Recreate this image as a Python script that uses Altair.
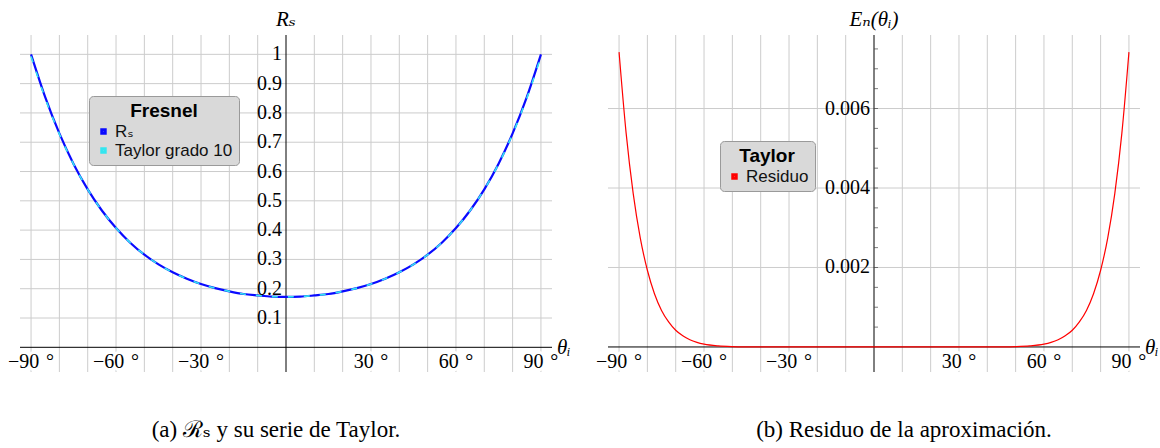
import altair as alt
import pandas as pd

# ---------------- data ----------------
theta_a = [-90, -85, -80, -75, -70, -65, -60, -55, -50, -45, -40, -35, -30, -25, -20, -15, -10, -5,
           0, 5, 10, 15, 20, 25, 30, 35, 40, 45, 50, 55, 60, 65, 70, 75, 80, 85, 90]
rs_vals = [1.000, 0.854, 0.730, 0.626, 0.539, 0.467, 0.407, 0.357, 0.316, 0.283, 0.256, 0.234, 0.216,
           0.202, 0.191, 0.182, 0.177, 0.173, 0.172, 0.173, 0.177, 0.182, 0.191, 0.202, 0.216, 0.234,
           0.256, 0.283, 0.316, 0.357, 0.407, 0.467, 0.539, 0.626, 0.730, 0.854, 1.000]
taylor_vals = [0.993, 0.850, 0.728, 0.625, 0.539, 0.467, 0.407, 0.357, 0.316, 0.283, 0.256, 0.234, 0.216,
               0.202, 0.191, 0.182, 0.177, 0.173, 0.172, 0.173, 0.177, 0.182, 0.191, 0.202, 0.216, 0.234,
               0.256, 0.283, 0.316, 0.357, 0.407, 0.467, 0.539, 0.625, 0.728, 0.850, 0.993]

theta_b = [-90, -87.5, -85, -82.5, -80, -77.5, -75, -72.5, -70, -67.5, -65, -62.5, -60, -55, -50, -45, -40,
           -30, -20, -10, 0, 10, 20, 30, 40, 45, 50, 55, 60, 62.5, 65, 67.5, 70, 72.5, 75, 77.5, 80,
           82.5, 85, 87.5, 90]
resid_vals = [0.00742, 0.00538, 0.00386, 0.00274, 0.00193, 0.00134, 0.00092, 0.00063, 0.00042, 0.00028,
              0.00018, 0.000115, 0.000071, 0.000027, 0.000009, 0.0000027, 0.0000007, 0, 0, 0, 0, 0, 0, 0,
              0.0000007, 0.0000027, 0.000009, 0.000027, 0.000071, 0.000115, 0.00018, 0.00028, 0.00042,
              0.00063, 0.00092, 0.00134, 0.00193, 0.00274, 0.00386, 0.00538, 0.00742]

x_grid = [-90, -80, -70, -60, -50, -40, -30, -20, -10, 10, 20, 30, 40, 50, 60, 70, 80, 90]
x_ticks = [-90, -60, -30, 30, 60, 90]
x_tick_labels = ["−90 \u200a°", "−60 \u200a°", "−30 \u200a°", "30 \u200a°", "60 \u200a°", "90 \u200a°"]

y_grid_a = [0.1, 0.2, 0.3, 0.4, 0.5, 0.6, 0.7, 0.8, 0.9, 1.0]
y_labels_a = ["0.1", "0.2", "0.3", "0.4", "0.5", "0.6", "0.7", "0.8", "0.9", "1"]
y_grid_b = [0.002, 0.004, 0.006]
y_labels_b = ["0.002", "0.004", "0.006"]
y_minor_b = [0.0005, 0.001, 0.0015, 0.002, 0.0025, 0.003, 0.0035, 0.004, 0.0045, 0.005, 0.0055,
             0.006, 0.0065, 0.007, 0.0075]

series_a = ["Rₛ", "Taylor grado 10"]
series_b = ["Residuo"]

X_DOMAIN = [-93.9, 93.9]
Y_DOMAIN_A = [-0.0843, 1.066]
Y_DOMAIN_B = [-0.00063, 0.00785]

# ---------------- style ----------------
W, H = 532, 337
GRID = "#cccccc"
SERIF = "Liberation Serif, DejaVu Serif, serif"
SANS = "Liberation Sans, DejaVu Sans, sans-serif"
xs = alt.Scale(domain=X_DOMAIN, nice=False, zero=False)


def enc(yscale):
    return dict(x=alt.X("x:Q", scale=xs, axis=None), y=alt.Y("y:Q", scale=yscale, axis=None))


def panel(yscale, ygrid, ylabels, ytitle, curves, caption, cap_dx, minor=None):
    layers = []
    layers.append(alt.Chart(pd.DataFrame({"x": x_grid})).mark_rule(color=GRID, strokeWidth=1)
                  .encode(x=alt.X("x:Q", scale=xs, axis=None)))
    layers.append(alt.Chart(pd.DataFrame({"y": ygrid})).mark_rule(color=GRID, strokeWidth=1)
                  .encode(y=alt.Y("y:Q", scale=yscale, axis=None)))
    layers.append(alt.Chart(pd.DataFrame({"y": [0]})).mark_rule(color="black", strokeWidth=1)
                  .encode(y=alt.Y("y:Q", scale=yscale, axis=None)))
    layers.append(alt.Chart(pd.DataFrame({"x": [0]})).mark_rule(color="black", strokeWidth=1)
                  .encode(x=alt.X("x:Q", scale=xs, axis=None)))
    if minor is not None:
        layers.append(alt.Chart(pd.DataFrame({"x": [0] * len(minor), "y": minor}))
                      .mark_tick(orient="horizontal", size=4, thickness=1, color="#444444", xOffset=2)
                      .encode(**enc(yscale)))
    layers += curves
    xl = pd.DataFrame({"x": x_ticks, "y": [0] * len(x_ticks), "t": x_tick_labels})
    layers.append(alt.Chart(xl).mark_text(font=SERIF, fontSize=20, baseline="middle", dy=15,
                                          color="white", stroke="white", strokeWidth=6)
                  .encode(text="t:N", **enc(yscale)))
    layers.append(alt.Chart(xl).mark_text(font=SERIF, fontSize=20, baseline="middle", dy=15, color="black")
                  .encode(text="t:N", **enc(yscale)))
    yl = pd.DataFrame({"x": [0] * len(ygrid), "y": ygrid, "t": ylabels})
    layers.append(alt.Chart(yl).mark_text(font=SERIF, fontSize=20, baseline="middle", align="right", dx=-4,
                                          color="black")
                  .encode(text="t:N", **enc(yscale)))
    ytl = pd.DataFrame({"x": [0], "y": [yscale.domain[1]], "t": [ytitle]})
    layers.append(alt.Chart(ytl).mark_text(font=SERIF, fontSize=21, fontStyle="italic", baseline="bottom",
                                           dy=-5, color="black")
                  .encode(text="t:N", **enc(yscale)))
    xtl = pd.DataFrame({"x": [X_DOMAIN[1]], "y": [0], "t": ["θᵢ"]})
    layers.append(alt.Chart(xtl).mark_text(font=SERIF, fontSize=21, fontStyle="italic", baseline="middle",
                                           align="left", dx=5, dy=1, color="black")
                  .encode(text="t:N", **enc(yscale)))
    return alt.layer(*layers).properties(
        width=W, height=H,
        title=alt.TitleParams(caption, orient="bottom", font=SERIF, fontSize=23, fontWeight="normal",
                              color="black", offset=46, dx=cap_dx),
    )


def make_legend(title, lx, ly):
    return alt.Legend(
        title=title, orient="none", legendX=lx, legendY=ly,
        fillColor="#d9d9d9", strokeColor="#9a9a9a", cornerRadius=4, padding=6,
        titleFont=SANS, titleFontSize=19, titleFontWeight="bold", titleColor="black",
        titleAnchor="middle", titleAlign="center", titlePadding=2,
        labelFont=SANS, labelFontSize=17, labelColor="#111111", labelOffset=3,
        symbolType="square", symbolSize=12, symbolStrokeWidth=3, symbolDash=[1, 0], rowPadding=1,
    )


ysA = alt.Scale(domain=Y_DOMAIN_A, nice=False, zero=False)
ysB = alt.Scale(domain=Y_DOMAIN_B, nice=False, zero=False)

colA = alt.Color("s:N", scale=alt.Scale(domain=series_a, range=["#0a0aff", "#33e6f0"]),
                 legend=make_legend("Fresnel", 69, 61))
dfRs = pd.DataFrame({"x": theta_a, "y": rs_vals, "s": [series_a[0]] * len(theta_a)})
dfTy = pd.DataFrame({"x": theta_a, "y": taylor_vals, "s": [series_a[1]] * len(theta_a)})
curvesA = [
    alt.Chart(dfRs).mark_line(strokeWidth=2.2, interpolate="monotone")
    .encode(color=colA, **enc(ysA)),
    alt.Chart(dfTy).mark_line(strokeWidth=1.6, interpolate="monotone", strokeDash=[6, 10])
    .encode(color=colA, **enc(ysA)),
]

colB = alt.Color("s:N", scale=alt.Scale(domain=series_b, range=["#ff0000"]),
                 legend=make_legend("Taylor", 112, 106))
dfE = pd.DataFrame({"x": theta_b, "y": resid_vals, "s": [series_b[0]] * len(theta_b)})
curvesB = [
    alt.Chart(dfE).mark_line(strokeWidth=1.2, interpolate="monotone")
    .encode(color=colB, **enc(ysB)),
]

left = panel(ysA, y_grid_a, y_labels_a, "Rₛ", curvesA, "(a) ℛₛ y su serie de Taylor.", -10)
right = panel(ysB, y_grid_b, y_labels_b, "Eₙ(θᵢ)", curvesB, "(b) Residuo de la aproximación.", 30,
              minor=y_minor_b)

chart = (
    alt.hconcat(left, right, spacing=56, bounds="flush")
    .resolve_scale(color="independent")
    .resolve_legend(color="independent")
    .configure_view(stroke=None)
    .properties(padding={"left": 8, "top": 9, "right": 0, "bottom": 0}, background="white")
)

chart.save("out.html", embed_options={"renderer": "svg", "actions": False})
